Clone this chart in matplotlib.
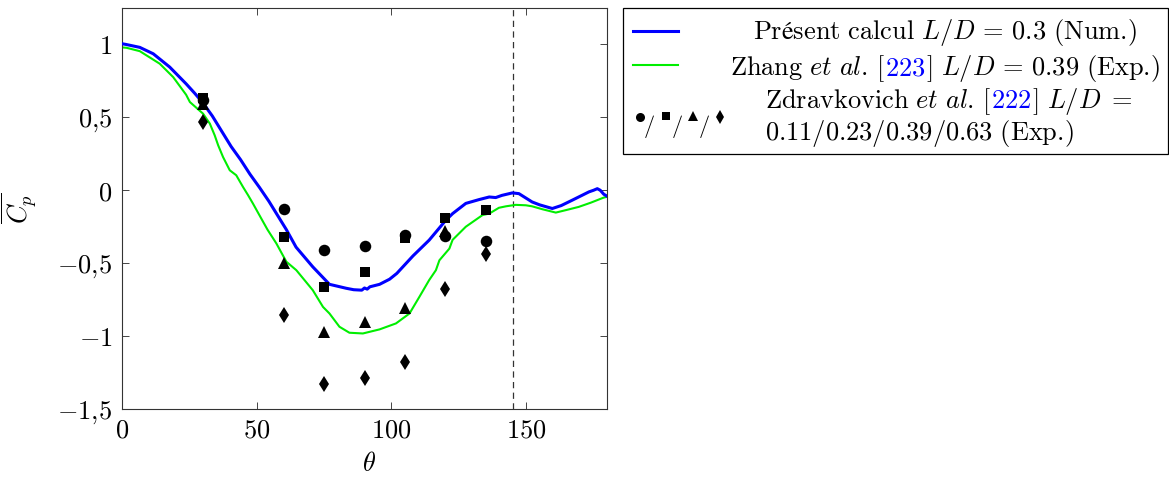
import numpy as np
import matplotlib
matplotlib.use("Agg")
import matplotlib.pyplot as plt
from matplotlib.lines import Line2D
from matplotlib.patches import Rectangle

plt.rcParams['mathtext.fontset'] = 'cm'
plt.rcParams['font.family'] = ['DejaVu Serif']

# ---------------- data ----------------
theta_num = [0, 1.5, 6.6, 11.6, 17.7, 23.8, 27, 30, 33.5, 37, 40.5, 44, 47.5, 51,
             54.5, 58, 61, 64.6, 70.8, 77, 83.2, 86, 89, 90, 91, 92, 95.6, 99.3,
             102, 105, 108, 114, 120.2, 122.7, 127.6, 132.5, 136.3, 138.7, 141,
             144.9, 147.3, 152.2, 155, 159.7, 163, 167.1, 170.8, 173.3, 175, 176.4,
             177.5, 178.8, 180]
cp_num = [1.005, 1.0, 0.98, 0.936, 0.845, 0.73, 0.665, 0.60, 0.51, 0.405, 0.30,
          0.21, 0.11, 0.02, -0.075, -0.18, -0.27, -0.39, -0.525, -0.645, -0.672,
          -0.682, -0.685, -0.67, -0.678, -0.662, -0.645, -0.61, -0.57, -0.51, -0.45,
          -0.342, -0.205, -0.16, -0.09, -0.064, -0.046, -0.05, -0.035, -0.018,
          -0.023, -0.08, -0.1, -0.125, -0.105, -0.068, -0.034, -0.011, 0.0, 0.011,
          0.0, -0.027, -0.04]

theta_zhang = [0, 1.7, 6.6, 14, 19, 23.8, 25.2, 30.1, 32.6, 34.4, 35.7, 37.5, 40,
               42.4, 44.9, 46.8, 48.6, 51.7, 54, 57.3, 61, 64.7, 70.8, 74.6, 77, 80.7,
               84.4, 89.4, 95.6, 101.7, 106.7, 110.4, 114, 116.5, 117.8, 121.5, 122.7,
               127.6, 133.8, 136.3, 139.9, 142.5, 146.1, 149.9, 152.2, 156, 161, 165,
               169.5, 174, 178.8, 180]
cp_zhang = [0.98, 0.977, 0.954, 0.868, 0.776, 0.655, 0.605, 0.525, 0.457, 0.377, 0.308,
            0.228, 0.137, 0.103, 0.023, -0.034, -0.091, -0.194, -0.27, -0.365, -0.49,
            -0.548, -0.685, -0.8, -0.845, -0.936, -0.977, -0.982, -0.954, -0.913,
            -0.845, -0.73, -0.616, -0.548, -0.48, -0.4, -0.34, -0.25, -0.17, -0.16,
            -0.12, -0.11, -0.10, -0.103, -0.11, -0.13, -0.153, -0.135, -0.114, -0.085,
            -0.05, -0.045]

theta_zd = [30, 60, 75, 90, 105, 120, 135]
cp_zd_011 = [0.62, -0.13, -0.41, -0.38, -0.31, -0.315, -0.35]
cp_zd_023 = [0.63, -0.32, -0.66, -0.56, -0.33, -0.19, -0.135]
cp_zd_039 = [0.595, -0.50, -0.97, -0.90, -0.805, -0.28, np.nan]
cp_zd_063 = [0.47, -0.855, -1.33, -1.29, -1.18, -0.68, -0.44]

theta_sep = 145

x_ticks = [0, 50, 100, 150]
x_tick_labels = ['$0$', '$50$', '$100$', '$150$']
y_ticks = [-1.5, -1, -0.5, 0, 0.5, 1]
y_tick_labels = ['$-1{,}5$', '$-1$', '$-0{,}5$', '$0$', '$0{,}5$', '$1$']

# ---------------- figure ----------------
W, H = 1169, 478
fig = plt.figure(figsize=(W / 100, H / 100), dpi=100)
ax = fig.add_axes([122 / W, 1 - 409 / H, 485 / W, 401 / H])

FS = 19
ax.plot(theta_num, cp_num, color='#0000ff', lw=2.2, zorder=3)
ax.plot(theta_zhang, cp_zhang, color='#00ee00', lw=1.5, zorder=2)
ax.axvline(theta_sep, color='#333333', lw=0.9, ls=(0, (5, 3.5)), zorder=1)

mk = dict(color='black', ls='none', zorder=4, markeredgewidth=0)
ax.plot(theta_zd, cp_zd_011, marker='o', ms=8.3, **mk)
ax.plot(theta_zd, cp_zd_023, marker='s', ms=7.8, **mk)
ax.plot(theta_zd, cp_zd_039, marker='^', ms=8.5, **mk)
ax.plot(theta_zd, cp_zd_063, marker='d', ms=8.5, **mk)

ax.set_xlim(0, 180)
ax.set_ylim(-1.5, 1.25)
ax.set_xticks(x_ticks)
ax.set_xticklabels(x_tick_labels)
ax.set_yticks(y_ticks)
ax.set_yticklabels(y_tick_labels)
ax.tick_params(direction='in', top=True, right=True, length=5, width=0.7,
               color='#444444', labelsize=FS)
ax.tick_params(axis='y', pad=7)
ax.tick_params(axis='x', pad=6)
for s in ax.spines.values():
    s.set_linewidth(0.8)
    s.set_color('#333333')

ax.set_xlabel(r'$\theta$', fontsize=FS)
ax.xaxis.set_label_coords(0.51, -0.105)
ax.set_ylabel(r'$\overline{C_p}$', fontsize=FS)
ax.yaxis.set_label_coords(-0.172, 0.5)

# ---------------- legend (manual) ----------------
def fx(px):
    return px / W


def fy(py):
    return 1 - py / H


fig.add_artist(Rectangle((fx(623), fy(154)), fx(1168) - fx(623), fy(8) - fy(154),
                         transform=fig.transFigure, fill=False, ec='black', lw=0.9))
fig.add_artist(Line2D([fx(633), fx(678)], [fy(31), fy(31)], transform=fig.transFigure,
                      color='#0000ff', lw=2.2))
fig.add_artist(Line2D([fx(633), fx(678)], [fy(65), fy(65)], transform=fig.transFigure,
                      color='#00ee00', lw=1.5))

lm = dict(transform=fig.transFigure, color='black', ls='none', markeredgewidth=0)
fig.add_artist(Line2D([fx(640)], [fy(117)], marker='o', ms=6.5, **lm))
fig.add_artist(Line2D([fx(666)], [fy(116)], marker='s', ms=6.3, **lm))
fig.add_artist(Line2D([fx(693)], [fy(116)], marker='^', ms=7, **lm))
fig.add_artist(Line2D([fx(720)], [fy(117)], marker='d', ms=7.5, **lm))
for sx in [649, 677, 704]:
    fig.text(fx(sx), fy(127), '$/$', fontsize=16, ha='center', va='center')

renderer = fig.canvas.get_renderer()


def place(pieces, x, y, align):
    texts = [fig.text(0, fy(y), s, color=c, fontsize=FS, ha='left', va='baseline')
             for s, c in pieces]
    widths = [t.get_window_extent(renderer).width for t in texts]
    total = sum(widths)
    start = x - total / 2 if align == 'center' else x
    for t, w in zip(texts, widths):
        t.set_x(fx(start))
        start += w


place([(r'$\mathrm{Présent\ calcul}\ L/D\,=\,0.3\ \mathrm{(Num.\!)}$', 'black')],
      945, 39, 'center')
place([(r'$\mathrm{Zhang}\ \mathit{et\ al.}\!\ [$', 'black'),
       (r'$223$', '#0000ff'),
       (r'$]\ L/D\,=\,0.39\ \mathrm{(Exp.\!)}$', 'black')], 945, 75, 'center')
place([(r'$\mathrm{Zdravkovich}\ \mathit{et\ al.}\!\ [$', 'black'),
       (r'$222$', '#0000ff'),
       (r'$]\ L/D\;=$', 'black')], 765, 108, 'left')
place([(r'$0.11/0.23/0.39/0.63\ \mathrm{(Exp.\!)}$', 'black')], 765, 140, 'left')

fig.savefig('out.png', dpi=100)
